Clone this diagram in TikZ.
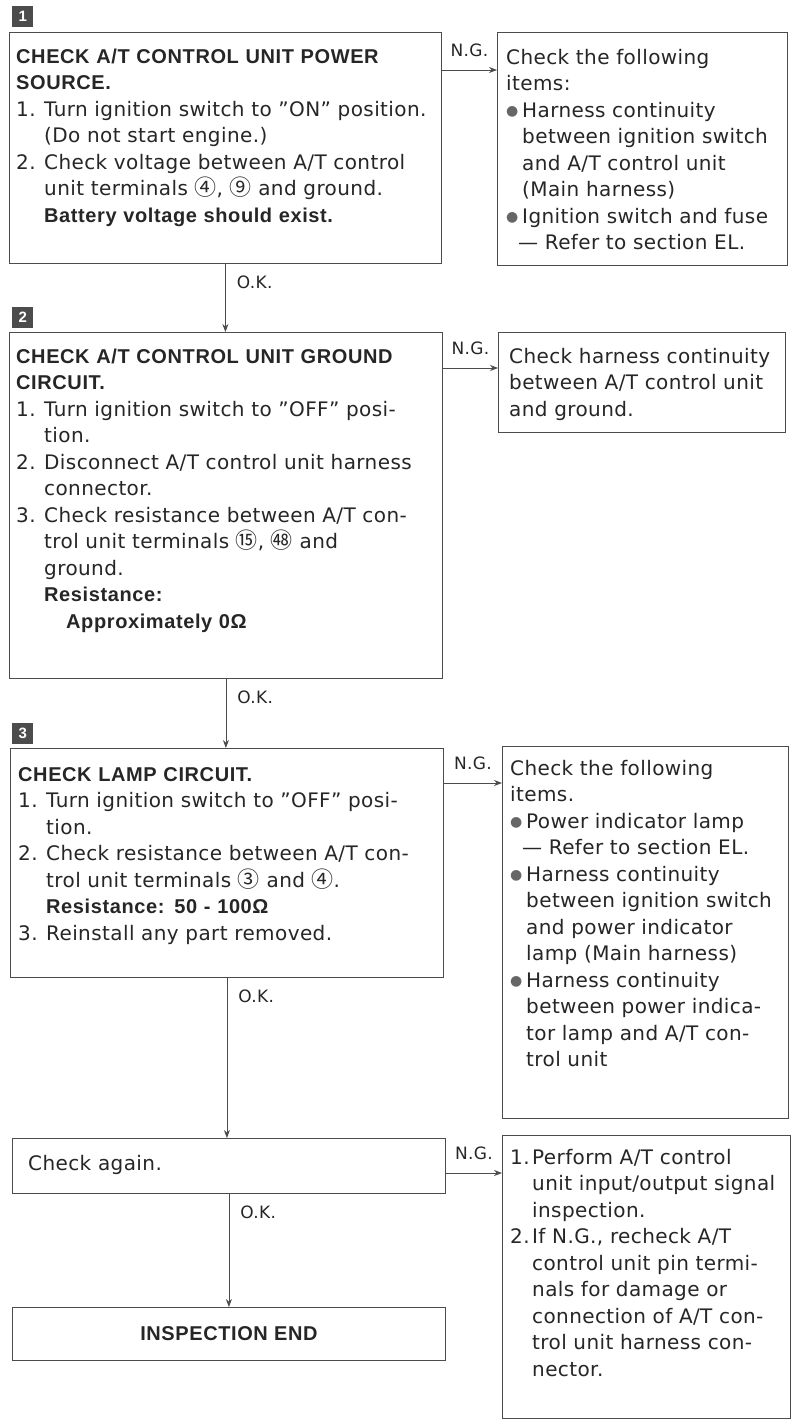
\documentclass[tikz,border=0pt]{standalone}
\usepackage{fontspec}
\setmainfont{DejaVu Sans}[BoldFont={Liberation Sans Bold},UprightFeatures={LetterSpace=2},BoldFeatures={LetterSpace=3}]
\newfontfamily\cjkfont{Noto Sans CJK SC}
\newfontfamily\symfont{DejaVu Sans}
\usetikzlibrary{arrows.meta,calc}
\newcommand\cn[1]{{\cjkfont\fontsize{22}{26.5}\selectfont #1}}
\newcommand\itm[1]{\makebox[1.4em][l]{#1}}
\newcommand\ind{\hspace*{1.4em}}
\newcommand\ritm[1]{\makebox[1.1em][l]{#1}}
\newcommand\rind{\hspace*{1.1em}}
\newcommand\bul{\makebox[0.8em][l]{\raisebox{0.08em}{\symfont\fontsize{14}{14}\selectfont\color{black!60}●}}}
\newcommand\bind{\hspace*{0.8em}}
\begin{document}
\begin{tikzpicture}[x=1pt,y=-1pt,
  box/.style={draw=black!70,line width=0.8pt,anchor=north west,inner sep=0pt},
  txt/.style={anchor=north west,inner sep=0pt,align=left,text width=#1,
    font=\fontsize{20}{26.5}\selectfont,text=black!85},
  txt/.default=425pt,
  lbl/.style={font=\fontsize{17}{20}\selectfont,inner sep=0pt,text=black!85},
  arr/.style={draw=black!70,line width=0.8pt,-{Stealth[length=8pt,width=6pt]}},
  marker/.style={fill=black!70,text=white,minimum size=21pt,inner sep=0pt,
    font=\fontsize{15}{15}\selectfont\bfseries,anchor=north west}]
\useasboundingbox (0,0) rectangle (794,1420);
\fill[white] (0,0) rectangle (794,1420);

% step markers
\node[marker] (m1) at (12,6) {1};
\node[marker] (m2) at (12,307) {2};
\node[marker] (m3) at (12,723) {3};

% boxes
\node[box,minimum width=432pt,minimum height=231pt] (b1) at (9,32) {};
\node[box,minimum width=290pt,minimum height=233pt] (r1) at (497,32) {};
\node[box,minimum width=433pt,minimum height=346pt] (b2) at (9,332) {};
\node[box,minimum width=287pt,minimum height=100pt] (r2) at (498,332) {};
\node[box,minimum width=433pt,minimum height=229pt] (b3) at (10,748) {};
\node[box,minimum width=286pt,minimum height=372pt] (r3) at (502,746) {};
\node[box,minimum width=433pt,minimum height=55pt] (b4) at (12,1138) {};
\node[box,minimum width=288pt,minimum height=283pt] (r4) at (502,1135) {};
\node[box,minimum width=433pt,minimum height=53pt] (b5) at (12,1307) {};

% texts
\node[txt] (t1) at (16,44.5) {\strut\textbf{CHECK A/T CONTROL UNIT POWER}\\
\textbf{SOURCE.}\\
\itm{1.}Turn ignition switch to ''ON'' position.\\
\ind(Do not start engine.)\\
\itm{2.}Check voltage between A/T control\\
\ind unit terminals \cn{④}, \cn{⑨} and ground.\\
\ind\textbf{Battery voltage should exist.}};

\node[txt=280pt] (tr1) at (506,45.5) {\strut Check the following\\
items:\\
\bul Harness continuity\\
\bind between ignition switch\\
\bind and A/T control unit\\
\bind (Main harness)\\
\bul Ignition switch and fuse\\
\hspace*{0.6em}— Refer to section EL.};

\node[txt] (t2) at (16,344.5) {\strut\textbf{CHECK A/T CONTROL UNIT GROUND}\\
\textbf{CIRCUIT.}\\
\itm{1.}Turn ignition switch to ''OFF'' posi-\\
\ind tion.\\
\itm{2.}Disconnect A/T control unit harness\\
\ind connector.\\
\itm{3.}Check resistance between A/T con-\\
\ind trol unit terminals \cn{⑮}, \cn{㊽} and\\
\ind ground.\\
\ind\textbf{Resistance:}\\
\ind\hspace*{1.1em}\textbf{Approximately 0Ω}};

\node[txt=280pt] (tr2) at (509,344.5) {\strut Check harness continuity\\
between A/T control unit\\
and ground.};

\node[txt] (t3) at (18,762.5) {\strut\textbf{CHECK LAMP CIRCUIT.}\\
\itm{1.}Turn ignition switch to ''OFF'' posi-\\
\ind tion.\\
\itm{2.}Check resistance between A/T con-\\
\ind trol unit terminals \cn{③} and \cn{④}.\\
\ind\textbf{Resistance: 50 - 100Ω}\\
\itm{3.}Reinstall any part removed.};

\node[txt=280pt] (tr3) at (510,756.5) {\strut Check the following\\
items.\\
\bul Power indicator lamp\\
\hspace*{0.6em}— Refer to section EL.\\
\bul Harness continuity\\
\bind between ignition switch\\
\bind and power indicator\\
\bind lamp (Main harness)\\
\bul Harness continuity\\
\bind between power indica-\\
\bind tor lamp and A/T con-\\
\bind trol unit};

\node[txt=40pt,anchor=west,text width=] (t4) at (28,1165) {Check again.};

\node[txt=282pt] (tr4) at (510,1145.5) {\strut\ritm{1.}Perform A/T control\\
\rind unit input/output signal\\
\rind inspection.\\
\ritm{2.}If N.G., recheck A/T\\
\rind control unit pin termi-\\
\rind nals for damage or\\
\rind connection of A/T con-\\
\rind trol unit harness con-\\
\rind nector.};

\node[font=\fontsize{20}{24}\selectfont\bfseries,text=black!85,inner sep=0pt] (t5) at (b5.center) {INSPECTION END};

% N.G. connectors
\coordinate (n1) at ([yshift=-38pt]b1.north east);
\coordinate (n2) at ([yshift=-36pt]b2.north east);
\coordinate (n3) at ([yshift=-35pt]b3.north east);
\coordinate (n4) at ([yshift=-35pt]b4.north east);
\draw[arr] (n1) -- node[lbl,above=13pt] (ng1) {N.G.} (n1 -| r1.west);
\draw[arr] (n2) -- node[lbl,above=13pt] (ng2) {N.G.} (n2 -| r2.west);
\draw[arr] (n3) -- node[lbl,above=13pt] (ng3) {N.G.} (n3 -| r3.west);
\draw[arr] (n4) -- node[lbl,above=13pt] (ng4) {N.G.} (n4 -| r4.west);

% O.K. connectors
\draw[arr] (b1.south) -- node[lbl,pos=0,anchor=north west,xshift=11pt,yshift=-12pt] (ok1) {O.K.} (b1.south |- b2.north);
\draw[arr] (b2.south) -- node[lbl,pos=0,anchor=north west,xshift=11pt,yshift=-12pt] (ok2) {O.K.} (b2.south |- b3.north);
\draw[arr] (b3.south) -- node[lbl,pos=0,anchor=north west,xshift=11pt,yshift=-12pt] (ok3) {O.K.} (b3.south |- b4.north);
\draw[arr] (b4.south) -- node[lbl,pos=0,anchor=north west,xshift=11pt,yshift=-12pt] (ok4) {O.K.} (b4.south |- b5.north);
\end{tikzpicture}
\end{document}
